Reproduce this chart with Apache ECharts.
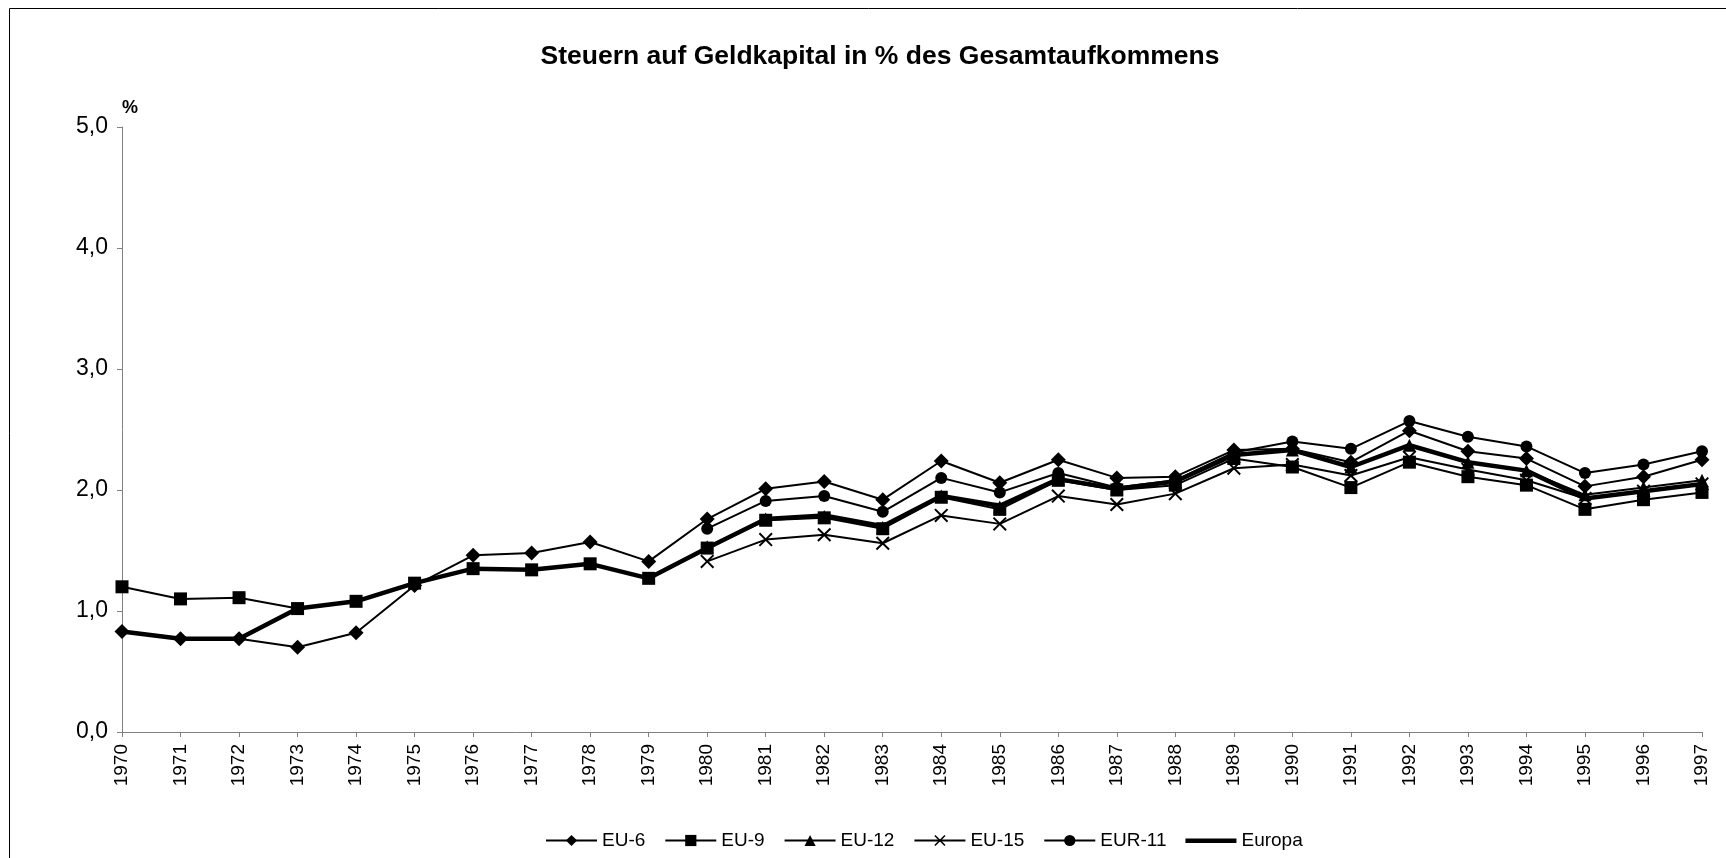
<!DOCTYPE html>
<html>
<head>
<meta charset="utf-8">
<script src="https://cdn.jsdelivr.net/npm/echarts@6/dist/echarts.min.js"></script>
<style>
  html, body { margin: 0; padding: 0; background: #fff; }
  #chart { width: 1726px; height: 858px; }
</style>
</head>
<body>
<div id="chart"></div>
<script>
// Jahre 1970–1997
const years = ['1970','1971','1972','1973','1974','1975','1976','1977','1978','1979',
  '1980','1981','1982','1983','1984','1985','1986','1987','1988','1989',
  '1990','1991','1992','1993','1994','1995','1996','1997'];

// Steuern auf Geldkapital in % des Gesamtaufkommens
const eu6 = [0.83,0.77,0.77,0.70,0.82,1.21,1.46,1.48,1.57,1.41,
  1.76,2.01,2.07,1.92,2.24,2.06,2.25,2.10,2.11,2.33,
  2.34,2.23,2.49,2.32,2.26,2.03,2.11,2.25];
const eu9 = [1.20,1.10,1.11,1.02,1.08,1.23,1.35,1.34,1.39,1.27,
  1.52,1.75,1.77,1.68,1.94,1.84,2.08,2.00,2.04,2.26,
  2.19,2.02,2.23,2.11,2.04,1.84,1.92,1.98];
const eu12 = [null,null,null,null,null,null,null,null,null,null,
  1.53,1.76,1.78,1.69,1.95,1.86,2.09,2.01,2.07,2.29,
  2.33,2.19,2.37,2.23,2.16,1.96,2.02,2.08];
const eu15 = [null,null,null,null,null,null,null,null,null,null,
  1.41,1.59,1.63,1.56,1.79,1.72,1.95,1.88,1.97,2.18,
  2.21,2.12,2.27,2.17,2.08,1.93,1.99,2.05];
const eur11 = [null,null,null,null,null,null,null,null,null,null,
  1.68,1.91,1.95,1.82,2.10,1.98,2.14,2.02,2.08,2.31,
  2.40,2.34,2.57,2.44,2.36,2.14,2.21,2.32];
const europa = [0.83,0.77,0.77,1.02,1.08,1.23,1.35,1.34,1.39,1.27,
  1.52,1.76,1.79,1.70,1.95,1.87,2.09,2.01,2.07,2.29,
  2.33,2.19,2.37,2.23,2.16,1.93,1.99,2.05];

const yTicks = [0, 1, 2, 3, 4, 5];

const FONT = '"Liberation Sans", Arial, sans-serif';
const crossPath = 'path://M0,1L1,0L5,4L9,0L10,1L6,5L10,9L9,10L5,6L1,10L0,9L4,5Z';
// plain thick bar for the legend entry of the aggregate line (box 51x14, bar in the middle)
const barIcon = 'path://M0,0L0.01,0L0.01,0.01Z M0,5H51V9.5H0Z M50.99,13.99L51,13.99L51,14Z';

function thinSeries(name, data, symbol, size) {
  return {
    name: name,
    type: 'line',
    data: data,
    symbol: symbol,
    symbolSize: size,
    showSymbol: true,
    connectNulls: false,
    lineStyle: { color: '#000', width: 2 },
    itemStyle: { color: '#000', borderWidth: 0 },
    emphasis: { disabled: true },
    animation: false
  };
}

const chart = echarts.init(document.getElementById('chart'), null, { renderer: 'canvas' });

chart.setOption({
  backgroundColor: '#fff',
  animation: false,
  title: {
    text: 'Steuern auf Geldkapital in % des Gesamtaufkommens',
    left: 875,
    textAlign: 'center',
    top: 38,
    textStyle: { fontFamily: FONT, fontSize: 26.5, fontWeight: 'bold', color: '#000' }
  },
  graphic: [{
    type: 'rect',
    shape: { x: 9.5, y: 8.5, width: 1800, height: 900 },
    style: { fill: 'none', stroke: '#000', lineWidth: 1 },
    silent: true
  }],
  legend: {
    top: 826,
    left: 540,
    itemWidth: 51,
    itemHeight: 14,
    itemGap: 19,
    lineStyle: { width: 2, color: '#000' },
    textStyle: { fontFamily: FONT, fontSize: 19, color: '#000' },
    data: ['EU-6', 'EU-9', 'EU-12', 'EU-15', 'EUR-11', { name: 'Europa', icon: barIcon }]
  },
  grid: { left: 122, right: 24, top: 127, bottom: 126, containLabel: false },
  xAxis: {
    type: 'category',
    data: years,
    boundaryGap: false,
    axisLine: { lineStyle: { color: '#808080', width: 1 } },
    axisTick: { show: true, alignWithLabel: true, length: 5, lineStyle: { color: '#808080' } },
    axisLabel: { rotate: 90, interval: 0, margin: 12, fontFamily: FONT, fontSize: 19, color: '#000' },
    splitLine: { show: false }
  },
  yAxis: {
    type: 'value',
    min: yTicks[0],
    max: yTicks[yTicks.length - 1],
    interval: 1,
    name: '%',
    nameLocation: 'end',
    nameGap: 10,
    nameTextStyle: { fontFamily: FONT, fontSize: 18, fontWeight: 'bold', color: '#000', align: 'left' },
    axisLine: { show: true, lineStyle: { color: '#808080', width: 1 } },
    axisTick: { show: true, length: 5, lineStyle: { color: '#808080' } },
    axisLabel: {
      fontFamily: FONT, fontSize: 23, color: '#000', margin: 14,
      formatter: v => v.toFixed(1).replace('.', ',')
    },
    splitLine: { show: false }
  },
  series: [
    thinSeries('EU-6', eu6, 'diamond', 15),
    thinSeries('EU-9', eu9, 'rect', 13),
    thinSeries('EU-12', eu12, 'triangle', 13),
    thinSeries('EU-15', eu15, crossPath, 14),
    thinSeries('EUR-11', eur11, 'circle', 12),
    {
      name: 'Europa',
      type: 'line',
      data: europa,
      symbol: 'none',
      showSymbol: false,
      lineStyle: { color: '#000', width: 4.5 },
      itemStyle: { color: '#000' },
      emphasis: { disabled: true },
      animation: false
    }
  ]
});
</script>
</body>
</html>
